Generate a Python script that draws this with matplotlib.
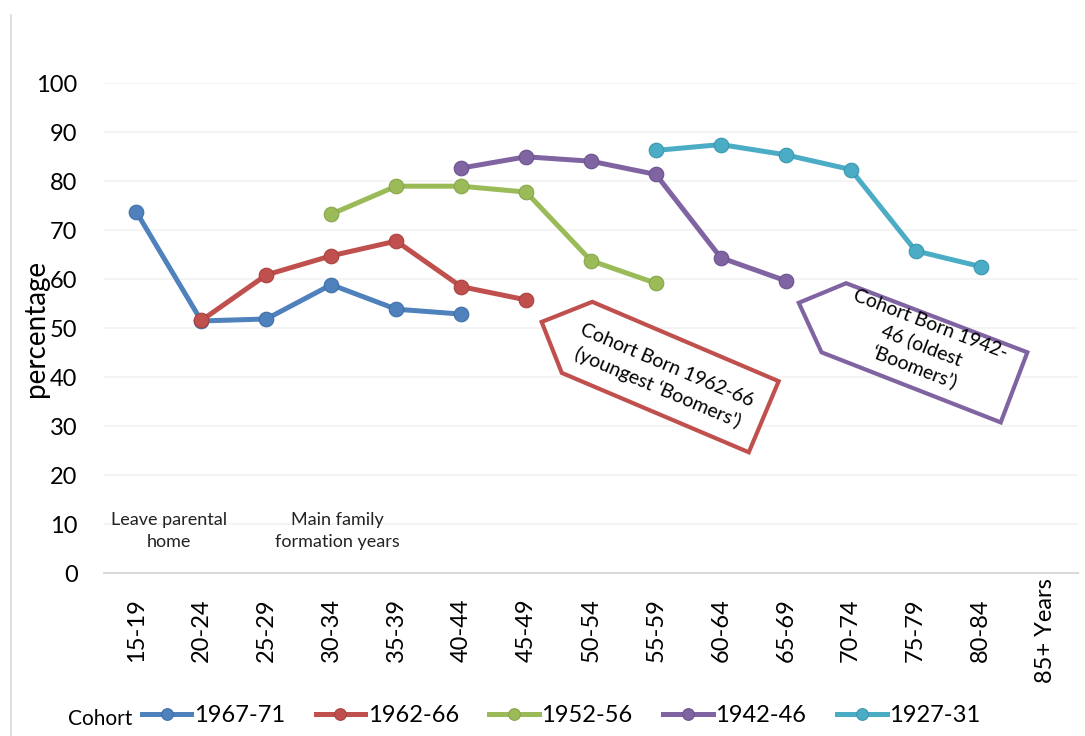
import matplotlib.pyplot as plt
from matplotlib.patches import Polygon
from matplotlib.lines import Line2D

plt.rcParams['font.family'] = ['Lato', 'DejaVu Sans']

# age groups on the x axis
age_groups = ['15-19', '20-24', '25-29', '30-34', '35-39', '40-44', '45-49',
              '50-54', '55-59', '60-64', '65-69', '70-74', '75-79', '80-84',
              '85+ Years']

# each cohort starts at a given age group index
cohort_names = ['1967-71', '1962-66', '1952-56', '1942-46', '1927-31']
cohort_start = [0, 1, 3, 5, 8]
vals_1967 = [73.7, 51.5, 51.9, 58.9, 53.9, 52.9]
vals_1962 = [51.6, 60.9, 64.8, 67.8, 58.5, 55.8]
vals_1952 = [73.3, 79.0, 79.0, 77.8, 63.8, 59.2]
vals_1942 = [82.7, 85.0, 84.1, 81.4, 64.4, 59.7]
vals_1927 = [86.3, 87.5, 85.4, 82.4, 65.8, 62.6]
cohort_vals = [vals_1967, vals_1962, vals_1952, vals_1942, vals_1927]

colors = ['#4F81BD', '#C0504D', '#9BBB59', '#8064A2', '#4BACC6']
edges = ['#3f6fa8', '#a8413e', '#86a64a', '#6c5290', '#3b97b0']

fig = plt.figure(figsize=(10.85, 7.36), dpi=100)
ax = fig.add_axes([104 / 1085, 1 - 573.3 / 736, 974 / 1085, 490 / 736])

for name, start, vals, c, ec in zip(cohort_names, cohort_start, cohort_vals, colors, edges):
    xs = list(range(start, start + len(vals)))
    ax.plot(xs, vals, color=c, lw=3.6, marker='o', ms=10.5, mfc=c, mec=ec,
            mew=0.8, label=name, zorder=3)

ax.set_xlim(-0.5, len(age_groups) - 0.5)
ax.set_ylim(0, 100)
ax.set_yticks(range(0, 101, 10))
ax.set_xticks(range(len(age_groups)))
ax.set_xticklabels(age_groups, rotation=90, va='center')
ax.tick_params(axis='x', length=0, pad=41, labelsize=17, colors='#000000')
ax.tick_params(axis='y', length=0, pad=19, labelsize=17, colors='#000000')
ax.grid(axis='y', color='#f2f2f2', lw=1.2)
ax.set_axisbelow(True)
for s in ['top', 'right', 'left']:
    ax.spines[s].set_visible(False)
ax.spines['bottom'].set_color('#d9d9d9')
ax.spines['bottom'].set_linewidth(1.5)

# stage notes
ax.text(0.5, 8.6, 'Leave parental\nhome', ha='center', va='center', fontsize=13,
        linespacing=1.45, color='#222222')
ax.text(3.1, 8.6, 'Main family\nformation years', ha='center', va='center',
        fontsize=13, linespacing=1.45, color='#222222')

# callout boxes
red_box = [(7.02, 55.4), (6.24, 51.3), (6.55, 40.9), (9.43, 24.7), (9.89, 39.2)]
purple_box = [(10.93, 59.2), (10.20, 55.2), (10.55, 45.1), (13.31, 30.8), (13.72, 45.1)]
ax.add_patch(Polygon(red_box, closed=True, fc='white', ec='#C0504D', lw=3, zorder=4))
ax.add_patch(Polygon(purple_box, closed=True, fc='white', ec='#8064A2', lw=3, zorder=4))
ax.text(8.1, 40.2, 'Cohort Born 1962-66\n(youngest \u2018Boomers\')', rotation=-23,
        rotation_mode='anchor', ha='center', va='center', fontsize=14,
        linespacing=1.45, zorder=5)
ax.text(12.1, 46.4, 'Cohort Born 1942-\n46 (oldest\n\u2018Boomers\u2019)', rotation=-21,
        rotation_mode='anchor', ha='center', va='center', fontsize=14,
        linespacing=1.35, zorder=5)

fig.text(36 / 1085, 1 - 328 / 736, 'percentage', rotation=90, ha='center',
         va='center', fontsize=20)

fig.add_artist(Line2D([11 / 1085, 11 / 1085], [0, 1 - 15 / 736], color='#d9d9d9', lw=1.2))

fig.legend(loc='center', bbox_to_anchor=(561 / 1085, 1 - 716 / 736), ncol=5,
           frameon=False, fontsize=17, handlelength=2.1, handletextpad=0.1,
           columnspacing=1.3, borderpad=0, markerscale=0.8)
fig.text(68 / 1085, 1 - 719 / 736, 'Cohort', ha='left', va='center', fontsize=15)

fig.savefig('out.png', dpi=100)
